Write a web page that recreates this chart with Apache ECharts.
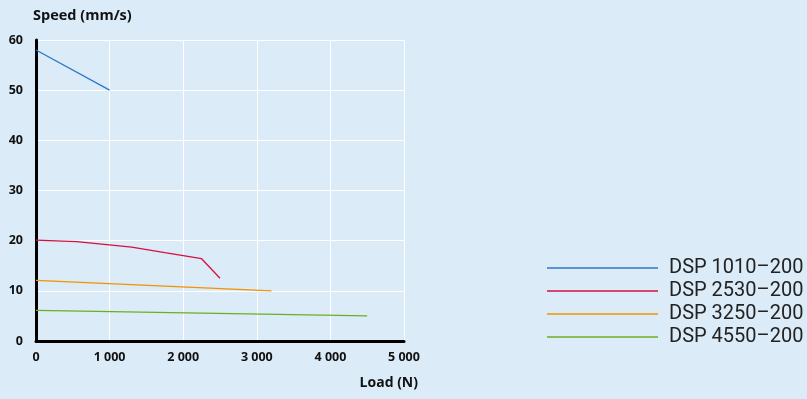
<!DOCTYPE html>
<html><head><meta charset="utf-8">
<script src="https://cdn.jsdelivr.net/npm/echarts@6/dist/echarts.min.js"></script>
<style>html,body{margin:0;padding:0;background:#dbebf7;}#c{width:807px;height:399px;}</style>
</head><body><div id="c"></div>
<script>
var seriesNames = ['DSP 1010–200', 'DSP 2530–200', 'DSP 3250–200', 'DSP 4550–200'];
var dsp1010 = [[0, 58], [1000, 50]];
var dsp2530 = [[0, 20.1], [550, 19.8], [1300, 18.7], [1750, 17.6], [2250, 16.4], [2500, 12.5]];
var dsp3250 = [[0, 12.1], [3200, 10.0]];
var dsp4550 = [[0, 6.1], [4500, 5.0]];
var xTicks = [0, 1000, 2000, 3000, 4000, 5000];
var yTicks = [0, 10, 20, 30, 40, 50, 60];
var colors = ['#2a78c6', '#d5103f', '#f39200', '#6cae22'];
var font = '"Open Sans", Roboto, sans-serif';
var chart = echarts.init(document.getElementById('c'));
function mk(name, data, i) {
  return {name: name, type: 'line', data: data, symbol: 'none', lineStyle: {width: 1.3, color: colors[i]}, itemStyle: {color: colors[i]}};
}
chart.setOption({
  backgroundColor: '#dbebf7',
  animation: false,
  grid: {left: 36, right: 403, top: 40, bottom: 58},
  legend: {
    orient: 'vertical', left: 547, top: 258, padding: 0, icon: 'rect', itemWidth: 111, itemHeight: 1.5, itemGap: 3,
    textStyle: {fontFamily: 'Roboto, sans-serif', fontSize: 20, color: '#222', lineHeight: 20, padding: [0, 0, 0, 6]},
    data: seriesNames
  },
  xAxis: {
    type: 'value', min: xTicks[0], max: xTicks[xTicks.length - 1], interval: 1000,
    name: 'Load (N)', nameLocation: 'end', nameGap: 14,
    nameTextStyle: {fontFamily: font, fontWeight: 'bold', fontSize: 14, color: '#111', align: 'right', verticalAlign: 'top', padding: [35, 0, 0, 0]},
    axisLine: {show: true, onZero: false, lineStyle: {color: '#000', width: 3}},
    axisTick: {show: false},
    splitLine: {show: true, lineStyle: {color: '#ffffff', width: 1}},
    axisLabel: {fontFamily: font, fontWeight: 'bold', fontSize: 12.5, color: '#111', margin: 10,
      formatter: function (v) { return String(v).replace(/\B(?=(\d{3})+(?!\d))/g, ' '); }}
  },
  yAxis: {
    type: 'value', min: yTicks[0], max: yTicks[yTicks.length - 1], interval: 10,
    name: 'Speed (mm/s)', nameLocation: 'end', nameGap: 17,
    nameTextStyle: {fontFamily: font, fontWeight: 'bold', fontSize: 14.5, color: '#111', align: 'left', padding: [0, 0, 0, -3]},
    axisLine: {show: true, onZero: false, lineStyle: {color: '#000', width: 3}},
    axisTick: {show: false},
    splitLine: {show: true, lineStyle: {color: '#ffffff', width: 1}},
    axisLabel: {fontFamily: font, fontWeight: 'bold', fontSize: 12.5, color: '#111', margin: 13}
  },
  series: [mk(seriesNames[0], dsp1010, 0), mk(seriesNames[1], dsp2530, 1), mk(seriesNames[2], dsp3250, 2), mk(seriesNames[3], dsp4550, 3)]
});
</script></body></html>
